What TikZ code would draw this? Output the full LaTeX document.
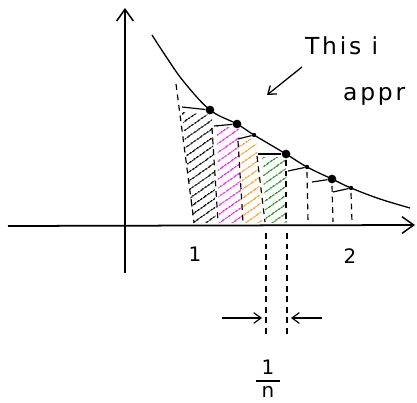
\documentclass[tikz,border=0pt]{standalone}
\usepackage{fontspec}
\setmainfont{DejaVu Sans}
\usetikzlibrary{arrows.meta,patterns.meta}
\definecolor{skmagenta}{HTML}{F01EF0}
\definecolor{skorange}{HTML}{FF9A1E}
\definecolor{skgreen}{HTML}{1E8C1E}
\tikzset{
  skaxis/.style={line width=1.5pt, -{Straight Barb[length=3.5mm,width=5mm,line width=1.3pt]}},
  skcurve/.style={line width=1.1pt},
  skdash/.style={line width=1pt, dash pattern=on 5pt off 4pt},
  sktop/.style={line width=1pt},
  skdot/.style={circle, fill=black, inner sep=0pt, minimum size=2.6mm},
  sktick/.style={circle, fill=black, inner sep=0pt, minimum size=1.3mm},
  skhatch/.style={pattern={Lines[angle=35,distance=6.5pt,line width=1.1pt]}, pattern color=#1},
  skwidth/.style={line width=1pt, -{Straight Barb[length=2.2mm,width=3.2mm]}},
  sklabel/.style={font=\fontsize{17}{20}\selectfont},
  sknote/.style={font=\fontsize{20}{24}\selectfont\addfontfeatures{LetterSpace=12}, anchor=west},
}
\begin{document}
\begin{tikzpicture}[x=0.03cm,y=-0.03cm]
  \useasboundingbox (0,0) rectangle (417,403);
  % ---------------- hatched strips ----------------
  \fill[skhatch=black] (182,112) -- (212,115) -- (216,223) -- (193,223) -- cycle;
  \fill[skhatch=skmagenta] (217,126) -- (239,128) -- (242,223) -- (219,223) -- cycle;
  \fill[skhatch=skorange] (240,140) -- (256,138) -- (262,223) -- (244,223) -- cycle;
  \fill[skhatch=skgreen] (262,157) -- (286,157) -- (287,223) -- (266,223) -- cycle;
  % ---------------- axes ----------------
  \coordinate (xs) at (8,226);
  \coordinate (xe) at (415,225);
  \coordinate (ys) at (125,273);
  \coordinate (ye) at (125,8);
  \draw[skaxis] (xs) -- (xe);
  \draw[skaxis] (ys) -- (ye);
  % ---------------- curve ----------------
  \draw[skcurve] plot[smooth, tension=0.6] coordinates {(152,35) (167,58) (184,82) (210,110) (237,124)
    (254,135) (286,154) (307,167) (332,179) (351,188) (380,199) (410,208)};
  % ---------------- points on the curve ----------------
  \node[skdot] (p1) at (210,110) {};
  \node[skdot] (p2) at (237,124) {};
  \node[sktick] (p3) at (254,135) {};
  \node[skdot] (p4) at (286,154) {};
  \node[sktick] (p5) at (307,167) {};
  \node[skdot] (p6) at (332,179) {};
  \node[sktick] (p7) at (351,188) {};
  % ---------------- strips ----------------
  \coordinate (t1) at (182,107);
  \coordinate (t2) at (214,126);
  \coordinate (t3) at (238,139);
  \coordinate (t4) at (258,154);
  \coordinate (t5) at (288,171);
  \coordinate (t6) at (312,182);
  \coordinate (t7) at (333,192);
  \draw[sktop] (t1) -- (p1);
  \draw[sktop] (t2) -- (p2);
  \draw[sktop] (t3) -- (p3);
  \draw[sktop] (t4) -- (p4);
  \draw[sktop] (t5) -- (p5);
  \draw[sktop] (t6) -- (p6);
  \draw[sktop] (t7) -- (p7);
  \draw[skdash] (176,84) -- (194,222);
  \draw[skdash] (212,128) -- (218,222);
  \draw[skdash] (238,141) -- (243,222);
  \draw[skdash] (257,156) -- (265,222);
  \draw[skdash] (286,160) -- (286,222);
  \draw[skdash] (307,172) -- (308,222);
  \draw[skdash] (332,186) -- (333,222);
  \draw[skdash] (351,193) -- (352,222);
  % ---------------- tick labels ----------------
  \node[sklabel] (one) at (195,254) {1};
  \node[sklabel] (two) at (350,256) {2};
  % ---------------- width 1/n ----------------
  \coordinate (w1) at (266,233);
  \coordinate (w2) at (287,233);
  \coordinate (w3) at (266,338);
  \coordinate (w4) at (287,338);
  \draw[skdash] (w1) -- (w3);
  \draw[skdash] (w2) -- (w4);
  \coordinate (la) at (222,318);
  \coordinate (lb) at (262,318);
  \coordinate (ra) at (322,318);
  \coordinate (rb) at (291,318);
  \draw[skwidth] (la) -- (lb);
  \draw[skwidth] (ra) -- (rb);
  \node[sklabel] (num) at (268,367) {1};
  \node[sklabel] (den) at (268,392) {n};
  \draw[line width=1.1pt] (256,381) -- (280,381);
  % ---------------- note ----------------
  \node[sknote] (note1) at (301,46) {This i};
  \node[sknote] (note2) at (339,96) {appr};
  \coordinate (na) at (302,67);
  \coordinate (nb) at (267,95);
  \draw[skwidth, line width=1.1pt] (na) -- (nb);
\end{tikzpicture}
\end{document}
